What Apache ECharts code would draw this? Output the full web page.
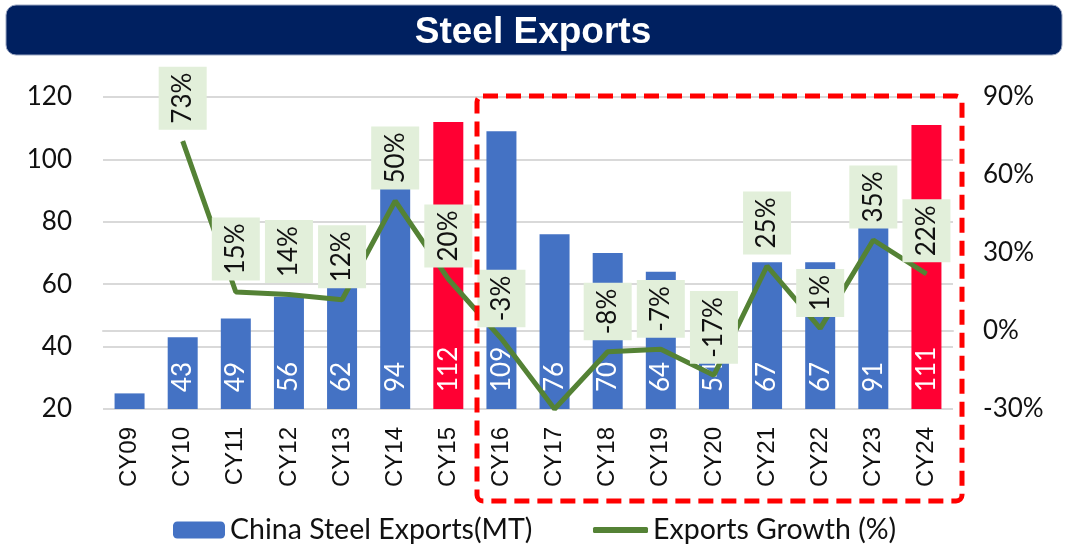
<!DOCTYPE html>
<html>
<head>
<meta charset="utf-8">
<script src="https://cdn.jsdelivr.net/npm/echarts@6/dist/echarts.min.js"></script>
<style>
  html, body { margin: 0; padding: 0; background: #ffffff; }
  #chart { width: 1066px; height: 544px; }
</style>
</head>
<body>
<div id="chart"></div>
<script>
const categories = ['CY09','CY10','CY11','CY12','CY13','CY14','CY15','CY16','CY17','CY18','CY19','CY20','CY21','CY22','CY23','CY24'];
const exportsMT = [25, 43, 49, 56, 62, 94, 112, 109, 76, 70, 64, 54, 67, 67, 91, 111];
const growthPct = [null, 73, 15, 14, 12, 50, 20, -3, -30, -8, -7, -17, 25, 1, 35, 22];
const highlightCats = ['CY15', 'CY24'];
const hiddenBarLabels = ['CY09'];
const hiddenGrowthLabels = ['CY17'];
const leftTicks = { min: 20, max: 120, interval: 20 };
const rightTicks = { min: -30, max: 90, interval: 30 };

const BLUE = '#4472C4', RED = '#FF0033', GREEN = '#548235';
const labelFont = 'Lato, "Noto Sans", sans-serif';

const barData = exportsMT.map((v, i) => ({
  value: v,
  itemStyle: { color: highlightCats.includes(categories[i]) ? RED : BLUE },
  label: { show: !hiddenBarLabels.includes(categories[i]) }
}));
const lineData = growthPct.map((v, i) => ({
  value: v,
  label: { show: v !== null && !hiddenGrowthLabels.includes(categories[i]) }
}));

const chart = echarts.init(document.getElementById('chart'));
chart.setOption({
  animation: false,
  backgroundColor: '#ffffff',
  title: {
    text: 'Steel Exports',
    left: 'center',
    top: 9,
    textStyle: { color: '#ffffff', fontFamily: '"Liberation Sans", Arial, sans-serif', fontWeight: 'bold', fontSize: 37 }
  },
  graphic: [
    { type: 'rect', z: -1, shape: { x: 6, y: 5, width: 1056, height: 50, r: 10 },
      style: { fill: '#002060', stroke: '#9aa6c2', lineWidth: 1 } },
    { type: 'rect', z: 100, shape: { x: 477, y: 96, width: 485, height: 405, r: 6 },
      style: { fill: null, stroke: '#FF0000', lineWidth: 5, lineDash: [15, 8] } }
  ],
  legend: [
    { data: ['China Steel Exports(MT)'], left: 168, top: 509, itemWidth: 52, itemHeight: 17, itemGap: 10,
      textStyle: { fontFamily: labelFont, fontSize: 28.5, color: '#111', lineHeight: 32 } },
    { data: [{ name: 'Exports Growth (%)', icon: 'roundRect' }], left: 588, top: 509, itemWidth: 55, itemHeight: 6, itemGap: 8,
      textStyle: { fontFamily: labelFont, fontSize: 28.5, color: '#111', lineHeight: 32 } }
  ],
  grid: { left: 103, right: 113, top: 97, bottom: 135, containLabel: false },
  xAxis: {
    type: 'category',
    data: categories,
    axisTick: { show: false },
    axisLine: { lineStyle: { color: '#d9d9d9', width: 2 } },
    axisLabel: { rotate: 90, margin: 18, fontSize: 24, color: '#111', fontFamily: '"Liberation Sans", Arial, sans-serif' }
  },
  yAxis: [
    {
      type: 'value', min: leftTicks.min, max: leftTicks.max, interval: leftTicks.interval,
      axisLine: { show: false }, axisTick: { show: false },
      splitLine: { lineStyle: { color: '#d9d9d9', width: 2 } },
      axisLabel: { margin: 31, fontSize: 26, color: '#111', fontFamily: labelFont }
    },
    {
      type: 'value', min: rightTicks.min, max: rightTicks.max, interval: rightTicks.interval,
      axisLine: { show: false }, axisTick: { show: false },
      splitLine: { show: false },
      axisLabel: { margin: 30, fontSize: 26, color: '#111', fontFamily: labelFont, formatter: '{value}%' }
    }
  ],
  series: [
    {
      name: 'China Steel Exports(MT)',
      type: 'bar',
      yAxisIndex: 0,
      barWidth: 30,
      itemStyle: { color: BLUE },
      data: barData,
      label: {
        position: 'insideBottom', rotate: 90, align: 'left', verticalAlign: 'middle', distance: 17,
        color: '#ffffff', fontSize: 26, fontFamily: labelFont
      }
    },
    {
      name: 'Exports Growth (%)',
      type: 'line',
      yAxisIndex: 1,
      showSymbol: true,
      symbol: 'circle',
      symbolSize: 1,
      connectNulls: false,
      lineStyle: { color: GREEN, width: 5 },
      itemStyle: { color: GREEN },
      data: lineData,
      z: 5,
      label: {
        show: true,
        position: 'top', rotate: 90, align: 'left', verticalAlign: 'middle', distance: 11,
        formatter: '{c}%', color: '#111', fontSize: 26, fontFamily: labelFont,
        backgroundColor: '#E2EFDA', padding: [9, 6, 9, 6], lineHeight: 30
      }
    }
  ]
});
</script>
</body>
</html>
